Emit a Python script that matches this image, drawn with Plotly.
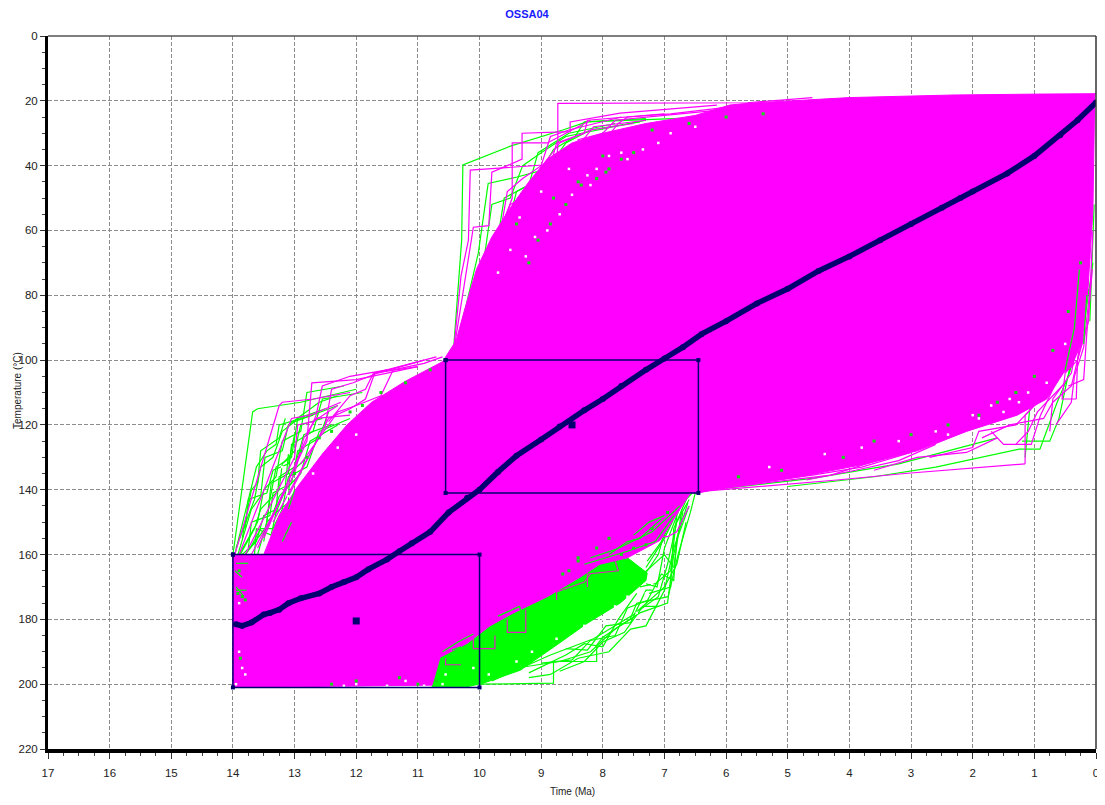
import plotly.graph_objects as go

# Best-fit thermal history (time Ma, temperature C)
mean_t = [13.95,13.85,13.7,13.5,13.4,13.25,13.1,12.9,12.6,12.4,12.2,12,11.8,11.5,11.3,11.1,10.8,10.5,10.2,10,9.7,9.4,9,8.7,8.3,8,7.7,7.3,7,6.7,6.4,6,5.5,5,4.5,4,3.5,3,2.5,2.2,2,1.44,1,0.58,0.3,0]
mean_T = [181.5,182,181,178.5,178,177,175,173.5,172,170,168.5,167,164.5,161.5,159,156.5,153,147,142.5,140,134.5,129.5,124.5,120.5,115.5,112,108,103,99.5,96,92,88,82.5,78,72.5,68,63,58,53,50,48,42.4,37,30.6,26,20.5]

# Constraint boxes
box1_t = [14,10,10,14,14]
box1_T = [160,160,201,201,160]
box2_t = [10.55,6.45,6.45,10.55,10.55]
box2_T = [100,100,141,141,100]
center_t = [12,8.5]
center_T = [180.5,120]

# Solid magenta envelope
env_t = [14,13.5,13.25,12.95,12.55,12.15,11.75,11.2,10.6,10.38,10.25,10.05,9.8,9.5,9.2,8.9,8.5,8.0,7.3,6.5,5.94,5.6,4,2.3,0.8,0,0.02,0.05,0.13,0.22,0.4,0.53,0.8,1.28,2.1,2.9,3.72,4.8,6.2,6.45,6.58,7.07,7.6,8.05,8.37,8.9,9.45,9.83,10.2,10.64,10.72,10.77,14,14]
env_T = [160,160,148,139,129,120,113,106.5,100.5,94,85,72,62,53,45,38,33,30,27,24.5,21.3,20.7,19,18.2,17.9,17.8,18,54,78,94,102,104,112,117,122,128,132,136,140,141,141,155.6,161,163,167,173,178,182,187.4,191.7,196.7,200.3,201,160]

# Solid green band under the lower edge of the envelope
gfill_t = [10.77,10.72,10.64,10.2,9.83,9.45,8.9,8.37,8.05,7.6,7.28,7.3,7.72,8.26,8.8,9.34,9.94,10.2,10.77]
gfill_T = [200.8,196.7,191.7,187.4,182,178,173,167,163,161,165.7,168,175,181.3,188.6,195.7,199.7,200.8,200.8]

# Individual outlying paths
green_paths = [
 [(14,160),(13.68,116),(13.6,115),(12.9,113),(12,109)],
 [(13.97,160),(13.62,133),(13.45,128),(13.3,126),(13.25,120),(12.7,117)],
 [(13.95,158),(13.65,143),(13.55,133),(13.35,130),(13.2,122),(13,119),(12.3,114)],
 [(13.92,160),(13.7,146),(13.55,142),(13.48,130),(13.2,128),(13.1,120),(12.6,113),(12.3,111)],
 [(13.9,160),(13.6,150),(13.5,140),(13.3,136),(13.2,125),(12.9,122),(12.8,110),(12.2,108)],
 [(13.88,160),(13.65,152),(13.55,146),(13.4,143),(13.3,133),(13.05,130),(12.95,118),(12.5,115)],
 [(13.85,160),(13.62,156),(13.5,148),(13.3,146),(13.25,136),(13,133),(12.85,123),(12.4,120)],
 [(13.8,160),(13.6,155),(13.4,150),(13.25,142),(13.05,138),(12.95,128),(12.6,124),(12.45,116)],
 [(13.72,158),(13.55,152),(13.35,152),(13.2,146),(13.1,136),(12.8,133),(12.6,122),(12.1,118)],
 [(13.6,160),(13.45,150),(13.3,147),(13.15,140),(12.9,135),(12.75,125),(12.3,120)],
 [(13.5,156),(13.4,143),(13.25,140),(13.2,132),(13.0,128),(12.9,120),(12.55,118)],
 [(13.45,150),(13.38,138),(13.1,135),(13.05,126),(12.7,122),(12.55,112),(11.9,110)],
 [(13.85,155),(13.7,140),(13.6,138),(13.55,128),(13.25,124),(13.15,118)],
 [(13.8,152),(13.75,143),(13.45,141),(13.35,134),(13.1,132),(13.0,123)],
 [(13.75,158),(13.7,150),(13.4,148),(13.35,141),(13.15,139),(13.1,129)],
 [(13.65,160),(13.62,152),(13.38,154),(13.3,147),(13.1,144),(13.08,135),(12.85,131)],
 [(10.43,99),(10.29,63),(10.27,39.8),(9.63,35),(9.5,34),(8.65,29),(8.26,26.5),(6.75,25.4)],
 [(10.4,98),(10.02,67),(9.86,45.5),(9.39,43.5),(8.9,41),(8.6,33),(8.2,29),(7.4,26.5)],
 [(10.35,96),(9.95,72),(9.8,52),(9.5,50),(9.3,40),(9.0,36),(8.6,31),(7.3,26)],
 [(10.1,85),(9.75,68),(9.6,50),(9.2,46),(9.05,36),(8.55,30),(7.8,27)],
 [(9.7,70),(9.4,48),(9.1,45),(8.8,35),(8.45,31),(8.3,26.5),(7.3,25.5)],
 [(0.91,127.5),(1.25,127.5),(2.6,133),(3.6,136),(5,139)],
 [(0.91,127.5),(0.63,113),(0.45,105),(0.2,90),(0.05,70)],
 [(1.2,125),(0.75,125),(0.6,118),(0.4,100),(0.15,80)],
 [(1.15,130),(1.05,110),(0.75,108),(0.6,98),(0.3,95),(0.12,78)],
 [(1.6,124),(2.4,128),(3.2,132),(4.6,136.5),(6,139.5)],
 [(0.1,88),(0.06,70),(0.03,52)],
 [(10,200),(8.8,199.7),(8.8,193),(8.1,193),(8.1,188),(8,185.5),(7.56,180),(7.45,175),(6.94,173),(6.78,160),(6.58,147),(6.5,141)],
 [(9.2,198),(8.85,197),(8.4,192),(7.9,190),(7.55,183),(7.3,182),(7.0,171),(6.85,158),(6.6,145)],
 [(9.8,199),(8.85,191),(8.15,186),(7.5,178.5),(7.0,170),(6.8,163),(6.65,150)],
 [(9.4,195),(8.7,193),(8.2,190),(7.8,183),(7.4,178),(6.95,175),(6.85,160),(6.7,147)],
 [(9.2,196.5),(8.6,191),(8.3,187.5),(8.0,188.5),(7.75,180),(7.45,172)],
 [(9.0,193.5),(8.5,192.5),(8.2,186.5),(7.8,185),(7.6,176.5),(7.25,174)],
 [(8.7,196),(8.3,193),(8.0,187),(7.65,184),(7.35,176),(7.1,176)],
 [(8.6,189),(8.25,189.5),(7.95,182),(7.55,181),(7.3,171),(7.2,171)],
 [(7.4,177),(7.1,173),(6.95,163),(6.8,150),(6.6,143)],
 [(7.3,175),(7.05,166),(6.85,168),(6.8,155),(6.62,144)],
 [(7.4,170),(7.15,169),(6.9,165),(6.8,148)],
 [(7.35,166),(7.0,160),(6.85,164),(6.72,146)],
 [(7.35,167),(7.1,160),(6.95,150),(6.65,142)],
 [(7.3,164),(7.0,155),(6.75,145),(6.55,141)],
 [(7.3,169),(7.12,170),(7.0,158),(6.7,143)],
 [(7.28,162),(7.05,156),(6.8,146),(6.62,141)],
 [(7.25,172),(6.9,170),(6.85,152),(6.6,141)],
]

magenta_paths = [
 [(13.97,160),(13.25,114),(13.2,113),(12.7,112),(12.1,110)],
 [(13.9,160),(13.2,125),(13.05,118),(12.75,117),(12.25,113)],
 [(13.8,160),(13.0,130),(12.95,120),(12.7,119),(12.3,114)],
 [(13.7,160),(13,135),(12.85,124),(12.65,118),(12.1,117)],
 [(13.6,158),(12.8,125),(12.72,107),(12,106),(11,102)],
 [(13.5,155),(12.65,117),(12.55,108),(12.1,105),(11.5,103)],
 [(13.35,150),(12.5,120),(12.4,109),(12.05,107),(11.65,104),(10.9,100)],
 [(13.1,142),(12.45,118),(12.1,115),(11.85,112),(11.7,104),(11.3,102),(10.7,99)],
 [(12.9,132),(12.3,116),(12,114),(11.6,111),(11.4,103),(10.9,101),(10.6,99)],
 [(12.45,119),(12.1,111),(11.85,109),(11.72,104),(11,102)],
 [(10.43,99),(10.3,74),(10.18,63),(10.15,41.4),(8.97,39.8),(8.7,33),(8.2,29),(7.5,27)],
 [(10.4,95),(10.1,59),(9.85,58.5),(9.8,42),(9.55,40),(9.31,38),(9.31,30),(8.53,29.5),(8.53,26.5),(7.72,23.8),(6.15,21.3)],
 [(10.3,90),(9.9,70),(9.7,62),(9.47,50),(9.47,33),(8.9,33),(8.6,30),(8.2,26)],
 [(10.2,84),(10,75),(9.7,65),(9.55,48),(9.3,44),(9,40),(8.85,31),(8.55,29),(7.7,25)],
 [(10,80),(9.8,65),(9.5,52),(9.3,50),(8.95,47),(8.75,33),(8.3,30),(8.25,26),(7,24)],
 [(9.7,75),(9.4,62),(9.2,48),(8.85,46),(8.75,38),(8.4,34),(8.15,28),(7.3,26)],
 [(8.85,60),(8.73,34),(8.73,20.8),(5.66,20.6),(4.6,19)],
 [(8.5,45),(8.4,32),(8.0,30),(7.8,26),(7,24.5),(6.2,23),(5.3,21)],
 [(8,33),(7.75,27),(7.6,25),(6.9,24),(6,22),(5,20.5)],
 [(1.15,132),(1.15,117),(0.9,112),(0.6,100),(0.3,80)],
 [(1.15,132),(2.4,134),(3.1,135),(4.2,137),(5.5,139),(6.4,140.5)],
 [(0.32,112),(0.55,112),(0.5,104),(0.3,100),(0.12,75)],
 [(0.32,112),(0.3,100),(0.12,88),(0.05,60)],
 [(1.85,124),(1.4,120),(0.85,118),(0.7,113),(0.4,108),(0.2,92)],
 [(0.65,120),(0.4,113),(0.35,105),(0.2,96),(0.08,75)],
 [(0.75,122),(0.7,112),(0.4,104),(0.25,90),(0.1,68)],
 [(2.7,130),(2.0,127),(1.9,122),(1.3,120),(0.9,112)],
 [(3.6,134),(2.9,130),(2.1,128.5),(1.6,124)],
 [(4.7,137),(3.9,134),(3.2,131),(2.6,126)],
 [(5.6,138),(4.6,135.5),(3.8,133),(3.0,128.5)],
 [(6.2,140),(5.2,137.5),(4.3,135.5),(3.4,130)],
 [(1.3,126),(1.1,122),(0.95,116),(0.55,108)],
 [(1.7,122),(1.5,126),(1.05,126),(0.9,117),(0.6,105)],
 [(0.45,108),(0.2,106),(0.15,92),(0.06,72)],
 [(6.6,145),(6.8,153),(6.95,154.5),(7.2,154.5)],
]

# Traces of green showing through the magenta, and magenta steps over the green band
green_over = [
 [(13.95,162.7),(13.75,162.7)],[(13.95,171),(13.78,171)],[(13.95,170),(13.82,173)],[(13.97,165),(13.85,167)],
 [(7.05,149),(7.4,155),(7.6,156),(7.9,160)],[(6.75,145),(7.2,153),(7.8,158.5),(8.2,161)],
 [(6.85,148),(7.15,156),(7.6,159),(8.3,163)],[(7.0,148),(7.25,150),(7.5,154)],
 [(10.6,190),(10.35,187),(10.1,184.5)],[(10.45,189.5),(10.3,188.5)],[(9.7,179),(9.35,176),(9.3,180)],
 [(13.2,156),(13.05,150)],[(13.1,146),(13,140)],
 [(0.35,90),(0.27,72)],[(0.2,95),(0.15,80)],[(0.5,103),(0.35,90)],
]
magenta_over = [
 [(9.55,180),(9.55,184),(9.25,184),(9.25,177)],
 [(10.1,186),(10.1,189),(9.75,189),(9.75,185)],
 [(10.55,192),(10.55,194),(10.3,194)],
 [(8.2,166),(8.3,168.5),(8.75,171.5),(8.75,174)],
 [(7.8,162),(7.75,165),(8.25,166),(8.25,170)],
]

# Specks in the fringes
white_t = [13.9,13.85,13.8,13.95,13.9,12.2,12,11.5,11.2,10.9,10.6,13.2,13.1,12.7,12.3,12.0,9.25,9.1,8.9,8.7,8.5,8.25,8.1,7.9,7.6,7.35,7.1,6.9,6.5,9.5,9.7,9.35,9.0,8.55,8.2,7.7,3.8,3.2,2.6,2.4,2,1.9,1.7,1.5,1.4,1.25,1.1,0.8,0.5,4.4,5.3,
           10.55,10.1,9.85,9.4,9.15,8.75,8.5,8.3,8.0,7.8,7.6,7.45,7.3,7.2]
white_T = [190,195,197,200,175,200.5,200,200.5,199,200.5,200,133,142,135,127,123,68,62,60,55,49,43,41,37,38,35,33,30,28,66,73,56,48,41,46,36,127,125,122,123,117,118,114,116,112,113,110,107,95,129,133,
           197,195,197,193,190,186,186,182,180,176,173,178,172,169]
speck_t = [13.9,13.92,13.85,13.8,13.9,13.88,12.4,12.0,11.3,11.0,10.7,13,12.9,12.8,12.6,12.4,12.1,11.9,11.6,11.2,10.8,9.2,9.05,8.85,8.6,8.35,8.1,7.9,7.7,7.5,7.2,6.6,6,5.4,9.4,8.8,8.4,7.95,8.0,3.6,3,2.4,1.9,1.6,1.3,1,0.7,0.45,0.25,4.1,5.1,5.8,8.55,8.4,7.3,7.5,7.7,7.9,8.1,8.4,8.65,7.2,6.95]
speck_T = [165,172,173,174,182,192,200,199,198,200,199,135,128,130,124,122,116,114,110,107,103,70,63,58,52,46,44,41,38,36,29,27,25,24,58,50,45,42,37,125,123,120,117,113,110,105,97,85,70,130,134,136,165,162,157,158,160,155,158,161,166,152,147]

BLUE = "#00006e"
FONT = "Liberation Sans"
GRID = dict(showgrid=True, gridcolor="#8c8c8c", griddash="4px,2px", gridwidth=1.2, zeroline=False)
fig = go.Figure()


def add_paths(paths, color):
    for p in paths:
        fig.add_trace(go.Scatter(x=[a for a, _ in p], y=[b for _, b in p], mode="lines",
                                 line=dict(color=color, width=1.2), hoverinfo="skip", showlegend=False))


add_paths(green_paths, "#00ff00")
fig.add_trace(go.Scatter(x=gfill_t, y=gfill_T, mode="lines", fill="toself", fillcolor="#00ff00",
                         line=dict(color="#00ff00", width=1), showlegend=False))
add_paths(magenta_paths, "#ff00ff")
fig.add_trace(go.Scatter(x=env_t, y=env_T, mode="lines", fill="toself", fillcolor="#ff00ff",
                         line=dict(color="#ff00ff", width=1), showlegend=False))
add_paths(green_over, "#00ff00")
add_paths(magenta_over, "#e020c0")
fig.add_trace(go.Scatter(x=white_t, y=white_T, mode="markers", marker=dict(color="white", size=2.5, symbol="square"), showlegend=False))
fig.add_trace(go.Scatter(x=speck_t, y=speck_T, mode="markers", marker=dict(color="#10e010", size=3, symbol="square"), showlegend=False))

for bt, bT in ((box1_t, box1_T), (box2_t, box2_T)):
    fig.add_trace(go.Scatter(x=bt, y=bT, mode="lines+markers", line=dict(color=BLUE, width=1.5),
                             marker=dict(color=BLUE, size=4, symbol="square"), showlegend=False))
fig.add_trace(go.Scatter(x=center_t, y=center_T, mode="markers",
                         marker=dict(color=BLUE, size=7, symbol="square"), showlegend=False))
fig.add_trace(go.Scatter(x=mean_t, y=mean_T, mode="lines+markers", line=dict(color=BLUE, width=5.5),
                         marker=dict(color=BLUE, size=6), showlegend=False))

W, H = 1097, 797
fig.update_layout(
    width=W, height=H, paper_bgcolor="white", plot_bgcolor="white",
    margin=dict(l=40, r=6, t=28, b=56, pad=0),
    title=dict(text="<b>OSSA04</b>", x=519/W, xanchor="center", y=1-6/H, yanchor="middle",
               font=dict(family=FONT, size=11, color="#1a1aff")),
    xaxis=dict(range=[17, 0], tickmode="array", tickvals=list(range(17, -1, -1)),
               ticks="outside", ticklen=6, tickcolor="#333", ticklabelstandoff=4,
               tickfont=dict(family=FONT, size=11.5, color="#222"),
               minor=dict(dtick=0.25, ticks="outside", ticklen=3, tickcolor="#444", showgrid=False),
               showline=True, linecolor="black", linewidth=4, mirror=False, **GRID),
    yaxis=dict(range=[220, 0], tickmode="array", tickvals=list(range(0, 221, 20)),
               ticks="outside", ticklen=5, tickcolor="#333",
               tickfont=dict(family=FONT, size=11.5, color="#222"),
               minor=dict(dtick=5, ticks="outside", ticklen=3, tickcolor="#444", showgrid=False),
               showline=True, linecolor="black", linewidth=3, mirror=False, **GRID),
    shapes=[
        dict(type="line", xref="paper", yref="paper", x0=0, x1=1, y0=1, y1=1, line=dict(color="#555", width=1.5)),
        dict(type="line", xref="paper", yref="paper", x0=1, x1=1, y0=0, y1=1, line=dict(color="#333", width=1.5)),
    ],
    annotations=[
        dict(text="Time (Ma)", xref="paper", yref="paper", x=(572-48)/1048, y=0, yshift=-42,
             showarrow=False, font=dict(family=FONT, size=10, color="#222"), xanchor="center", yanchor="middle"),
        dict(text="Temperature (°C)", xref="paper", yref="paper", x=0, xshift=-31, y=1-(391-36)/713,
             textangle=-90, showarrow=False, font=dict(family=FONT, size=10, color="#222"),
             xanchor="center", yanchor="middle"),
    ],
)
fig.write_html("out.html")
